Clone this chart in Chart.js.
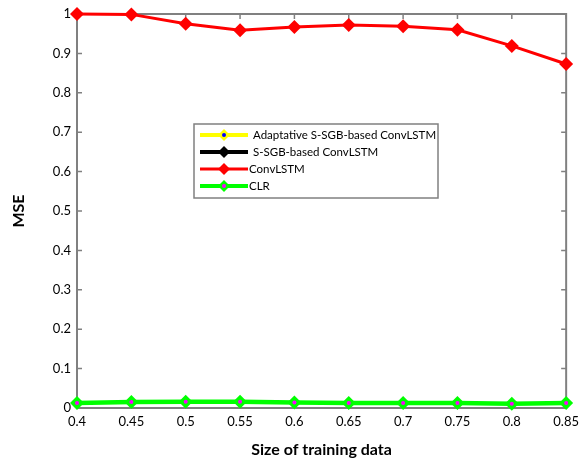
<!DOCTYPE html>
<html>
<head>
<meta charset="utf-8">
<script src="https://cdn.jsdelivr.net/npm/chart.js@4"></script>
<style>
  html, body { margin: 0; padding: 0; background: #fff; }
  #wrap { width: 585px; height: 459px; }
</style>
</head>
<body>
<div id="wrap"><canvas id="mseChart" width="585" height="459"></canvas></div>
<script>
// Sample data
const sizes = ['0.4', '0.45', '0.5', '0.55', '0.6', '0.65', '0.7', '0.75', '0.8', '0.85'];
const adaptiveMse = [0.013, 0.015, 0.016, 0.016, 0.014, 0.013, 0.013, 0.013, 0.011, 0.013];
const ssgbMse = [0.013, 0.015, 0.016, 0.016, 0.014, 0.013, 0.013, 0.013, 0.011, 0.013];
const convlstmMse = [1.0, 0.999, 0.975, 0.959, 0.967, 0.972, 0.969, 0.960, 0.919, 0.873];
const clrMse = [0.013, 0.015, 0.016, 0.016, 0.014, 0.013, 0.013, 0.013, 0.011, 0.013];
const yTicks = [0, 0.1, 0.2, 0.3, 0.4, 0.5, 0.6, 0.7, 0.8, 0.9, 1];

const FONT = 'Lato';

// series styles, also used for the legend box
const series = [
  { label: 'Adaptative S-SGB-based ConvLSTM', data: adaptiveMse, line: '#ffff00', fill: '#ffff00', dot: '#0000ff', width: 4, plotWidth: 2, radius: 5, order: 3 },
  { label: 'S-SGB-based ConvLSTM', data: ssgbMse, line: '#000000', fill: '#000000', dot: null, width: 4, plotWidth: 2, radius: 5, order: 2 },
  { label: 'ConvLSTM', data: convlstmMse, line: '#ff0000', fill: '#ff0000', dot: null, width: 3, plotWidth: 3, radius: 7, order: 1 },
  { label: 'CLR', data: clrMse, line: '#00ff00', fill: '#00ff00', dot: '#ff00ff', width: 4, plotWidth: 4.5, radius: 7, order: 0 }
];

function drawDiamond(ctx, x, y, r, color, dot) {
  ctx.beginPath();
  ctx.moveTo(x, y - r);
  ctx.lineTo(x + r, y);
  ctx.lineTo(x, y + r);
  ctx.lineTo(x - r, y);
  ctx.closePath();
  ctx.fillStyle = color;
  ctx.fill();
  if (dot) {
    ctx.beginPath();
    ctx.arc(x, y, 2, 0, Math.PI * 2);
    ctx.fillStyle = dot;
    ctx.fill();
  }
}

// frame, inward ticks, inner dots, legend box
const framePlugin = {
  id: 'frame',
  beforeDatasetsDraw(chart) {
    const ctx = chart.ctx;
    const a = chart.chartArea;
    const xs = chart.scales.x;
    const ys = chart.scales.y;
    ctx.save();
    ctx.strokeStyle = '#808080';
    ctx.lineWidth = 2;
    ctx.strokeRect(a.left, a.top, a.right - a.left, a.bottom - a.top);
    ctx.lineWidth = 1.5;
    ctx.beginPath();
    sizes.forEach((s, i) => {
      const x = xs.getPixelForValue(i);
      ctx.moveTo(x, a.bottom); ctx.lineTo(x, a.bottom - 5);
      ctx.moveTo(x, a.top); ctx.lineTo(x, a.top + 5);
    });
    yTicks.forEach(v => {
      const y = ys.getPixelForValue(v);
      ctx.moveTo(a.left, y); ctx.lineTo(a.left + 5, y);
      ctx.moveTo(a.right, y); ctx.lineTo(a.right - 5, y);
    });
    ctx.stroke();
    ctx.restore();
  },
  afterDatasetsDraw(chart) {
    const ctx = chart.ctx;
    ctx.save();
    // dot inside the top-most (CLR) markers
    const last = series.length - 1;
    chart.getDatasetMeta(last).data.forEach(pt => {
      ctx.beginPath();
      ctx.arc(pt.x, pt.y, 2, 0, Math.PI * 2);
      ctx.fillStyle = series[last].dot;
      ctx.fill();
    });
    ctx.restore();
  },
  afterDraw(chart) {
    const ctx = chart.ctx;
    ctx.save();
    const bx = 194, by = 124, bw = 244, bh = 74;
    ctx.fillStyle = '#ffffff';
    ctx.fillRect(bx, by, bw, bh);
    ctx.strokeStyle = '#808080';
    ctx.lineWidth = 1.5;
    ctx.strokeRect(bx, by, bw, bh);
    ctx.font = '11.5px ' + FONT;
    ctx.textBaseline = 'middle';
    series.forEach((s, i) => {
      const y = by + 11 + i * 17;
      ctx.strokeStyle = s.line;
      ctx.lineWidth = s.width;
      ctx.beginPath();
      ctx.moveTo(bx + 6, y);
      ctx.lineTo(bx + 54, y);
      ctx.stroke();
      drawDiamond(ctx, bx + 30, y, 6, s.fill, s.dot);
      ctx.fillStyle = '#000';
      ctx.fillText(s.label, bx + (i < 2 ? 59 : 55), y);
    });
    ctx.restore();
  }
};

function initializeChart() {
  const ctx = document.getElementById('mseChart').getContext('2d');
  new Chart(ctx, {
    type: 'line',
    data: {
      labels: sizes,
      datasets: series.map(s => ({
        label: s.label,
        data: s.data,
        order: s.order,
        borderColor: s.line,
        backgroundColor: s.fill,
        borderWidth: s.plotWidth,
        pointStyle: 'rectRot',
        pointRadius: s.radius,
        pointBorderWidth: 0,
        pointBackgroundColor: s.fill,
        tension: 0,
        clip: false
      }))
    },
    options: {
      responsive: false,
      animation: false,
      devicePixelRatio: 1,
      layout: { padding: { left: 0, right: 11, top: 14, bottom: 0 } },
      plugins: {
        legend: { display: false },
        tooltip: { enabled: false }
      },
      scales: {
        x: {
          type: 'category',
          offset: false,
          grid: { display: false, drawTicks: false },
          border: { display: false },
          ticks: { color: '#000', font: { family: FONT, size: 13 }, padding: 6, maxRotation: 0, autoSkip: false },
          title: { display: true, text: 'Size of training data', color: '#000', font: { family: FONT, size: 16, weight: 'bold' }, padding: { top: 3, bottom: 0 } },
          afterFit(scale) { scale.height = 51; }
        },
        y: {
          min: 0,
          max: 1,
          grid: { display: false, drawTicks: false },
          border: { display: false },
          afterBuildTicks(scale) { scale.ticks = yTicks.map(v => ({ value: v })); },
          ticks: {
            color: '#000',
            font: { family: FONT, size: 13 },
            padding: 6,
            callback: v => String(Math.round(v * 10) / 10)
          },
          title: { display: true, text: 'MSE', color: '#000', font: { family: FONT, size: 16, weight: 'bold' }, padding: { top: 9, bottom: 4 } },
          afterFit(scale) { scale.width = 77; }
        }
      }
    },
    plugins: [framePlugin]
  });
}

document.addEventListener('DOMContentLoaded', initializeChart);
</script>
</body>
</html>
